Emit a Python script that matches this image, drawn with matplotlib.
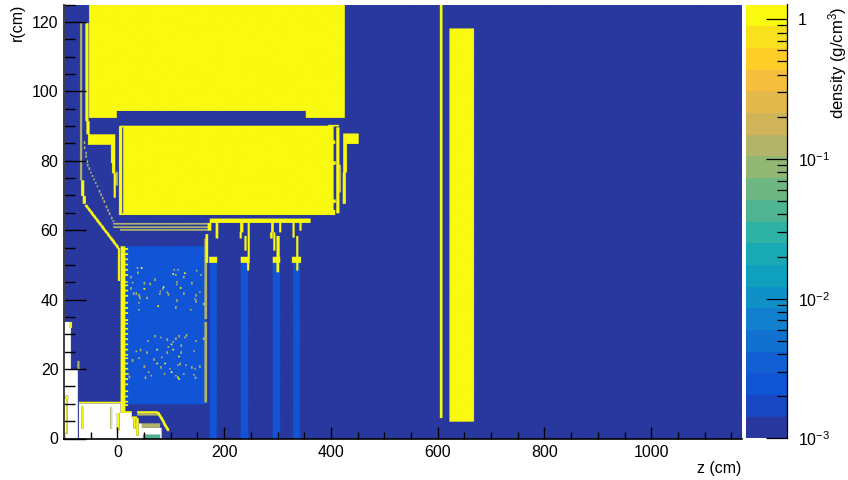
"""Material density map in the r-z plane"""
import matplotlib
matplotlib.use('Agg')
import matplotlib.pyplot as plt
from matplotlib.colors import BoundaryNorm, ListedColormap
from matplotlib.ticker import FixedLocator, MultipleLocator, NullFormatter
import numpy as np

plt.rcParams['font.family'] = ['Liberation Sans', 'DejaVu Sans']
plt.rcParams['mathtext.fontset'] = 'custom'
plt.rcParams['mathtext.rm'] = 'Liberation Sans'
plt.rcParams['mathtext.default'] = 'rm'

Z_RANGE = (-100, 1170)
R_RANGE = (0, 125)
RHO_MIN, RHO_MAX = 1e-3, 1.27

# density values (g/cm3) of the materials
RHO_AIR = 0.0011
RHO_GAS = 0.0025
RHO_MIX = 0.12
RHO_GREEN = 0.042
RHO_IRON = 8.0

# 20 colour bands, bottom to top
band_colors = ['#28389f', '#1946c3', '#1155d7', '#125fd4', '#1270d0', '#1280cd',
               '#0f91c8', '#0fa0be', '#19aab4', '#2db2a5', '#4eb491', '#6eb782',
               '#91b773', '#b2b469', '#d0b45a', '#e4b94b', '#f5be3c', '#fecd28',
               '#fae11e', '#fafa0f']

# (z0, z1, r0, r1) in cm
gas_regions = [(16, 166, 9.8, 55.3), (173, 186, 0, 50.7), (231, 245, 0, 50.7),
               (291, 305, 0, 50.7), (329, 342, 0, 50.7)]

iron_regions = [
    (-53, 426, 94.5, 125), (-53, -1, 92.5, 94.5), (353, 426, 92.5, 94.5),
    (16, 405, 64.4, 90.2), (4, 8, 64.5, 90), (12, 16, 64.5, 90),
    (4, 16, 89.7, 90.2), (4, 16, 64.3, 64.8),
    (-59, -55, 91.4, 119.6), (-57, -53, 87.6, 91.4), (-55, -4, 84.7, 87.6),
    (-12, -4, 79.5, 84.7), (-10, -4, 76.4, 79.5), (-6, -4, 69.5, 76.4),
    (-67, -63, 70, 74.4), (-64, -60, 67.6, 70), (1.5, 3.5, 45.5, 55),
    (173, 362, 62.2, 63.4),
    (423, 452, 85, 87.9), (423, 430, 76.7, 85), (423, 427, 67.7, 76.7),
    (411, 415, 64.8, 89.6), (395, 415, 89.9, 90.3),
    (405, 407, 64.5, 66), (405, 408, 79, 80), (405, 408, 68, 69), (405, 407, 85, 86),
    (605, 608, 6, 125), (622, 668, 4.9, 118.2),
    (6, 15, 7.5, 55.5),
    # station supports and blobs
    (170, 175, 59.9, 62.2), (185, 188, 57.6, 62.2), (172, 187, 50.7, 52.4),
    (166, 169, 50.7, 59),
    (245, 247, 50.7, 62.2), (230, 232, 57.6, 59.7), (239, 241, 54.2, 58.5),
    (231, 248, 50.7, 52.4), (231, 235, 59.5, 62.2), (244, 246, 48.4, 50.7),
    (287, 290, 57.6, 59.5), (289, 292, 59.5, 62.2), (299, 303, 50.7, 58.5),
    (293, 295, 54.2, 59.4), (304, 306, 59.5, 62.2), (291, 305, 50.7, 52.4),
    (299, 302, 48, 50.7),
    (329, 331, 57.9, 62.2), (342, 344, 60, 62.2), (336, 338, 48.4, 58.5),
    (327, 344, 50.7, 52.4),
    # lower left
    (-72, 9, 10.1, 10.6), (9, 27, 7.5, 8), (27, 37, 6, 6.4), (31, 33, 3, 6),
    (-66, -65, 2.9, 9.5), (-12, -11, 3, 9.2), (-95, -94, 1.4, 12.4), (0, 3, 2.3, 7.5),
    (-88, -86, 32, 33.7), (36, 39, 1, 6), (-96, -93, 11.5, 12.5), (37, 76, 7.4, 7.9),
]

mix_regions = [
    (-69, -67, 74.4, 119.6), (-8, 170, 61.7, 62.2), (-8, 170, 60.6, 61.1),
    (5, 170, 60, 60.3), (164, 167, 34.3, 57.6), (164, 167, 10.4, 33.6),
    (37, 76, 6.6, 7.8), (46, 80, 3.2, 4.3), (-74, -72, 20, 22.5),
    (417, 418, 71, 79), (-2, 0, 73, 77),
]

# r rows of the jagged yellow edge of the gas volume at z = 14..17
jag_r = [54.5, 53, 51.5, 50, 48.5, 47, 45, 44, 42.5, 41, 39, 37.5, 36, 34, 33, 31.5,
         30, 28.5, 27, 25.5, 24, 23, 21.5, 20, 18.5, 17, 15.5, 13.5, 12, 10.5, 9.5]

# white, below the scale: (z0, z1, r0, r1)
empty_regions = [(-100, -87, 19.9, 33.7), (-100, -74, 0, 19.9), (-72, 9, 0, 10.1),
                 (9, 27, 0, 7.5), (27, 37, 0, 6), (37, 46, 0, 4.3), (46, 83, 0, 3.2)]
green_regions = [(48, 80, 0, 1.2)]

# slanted thin parts: (z0, r0, z1, r1)
iron_slants = [(-59, 67.1, 1, 55), (76, 7.5, 95, 2.3)]

# single scattered cells
speck_z = [36.8, 37.4, 24.3, 69.2, 105.9, 112.1, 108.4, 123.4, 147.6, 155.8, 163.2, 17.5, 28,
           49.8, 60.4, 110.3, 110.3, 138.3, 84.1, 24.3, 79.1, 78.5, 92.8, 94.7, 29.9, 34.3,
           39.2, 41.1, 54.2, 123.4, 153.3, 147, 144.5, 147, 39.2, 110.3, 108.4, 39.2, 136.4,
           160.1, 69.2, 80.4, 92.8, 108.4, 114.6, 125.8, 129, 56.1, 103.4, 94.7, 119, 147,
           160.1, 43, 34.3, 54.2, 92.8, 119, 142.7, 82.2, 39.2, 28, 67.3, 116.5, 112.1, 127.1,
           49.8, 80.4, 97.2, 138.3, 144.5, 153.3, 58, 87.8, 123.4, 142.7, 62.9, 108.4, 51.7,
           145.2, 19.3, 21.8, -56, -53, -50, -47, -44, -41, -38, -34, -31, -28, -25, -21, -18,
           -15, -11, -8, -62, -62, -59, -59, -57]
speck_r = [48.8, 47.5, 46.2, 45.5, 48.4, 48.4, 46.9, 46.2, 48.1, 46.9, 46.9, 44.8, 44.6,
           44.5, 44.2, 44.8, 44.1, 44.5, 42.8, 43, 42.1, 41.4, 41.9, 41.2, 41.5, 41.5,
           41, 40.2, 40.2, 41.5, 41.9, 41, 39.8, 39.2, 38.9, 39.5, 37.5, 36.9, 36.9,
           38.5, 29.2, 28.9, 28.2, 28.5, 29.2, 28.9, 29.5, 27.9, 27.6, 26.1, 26.5, 27.9,
           28.5, 25.2, 24.8, 24.5, 24.5, 24.5, 24.8, 23.1, 22.9, 22.2, 22.5, 21.2, 20.8, 20.8,
           20.5, 20.2, 19.9, 20.2, 19.9, 20.5, 18.8, 18.4, 18.4, 18.1, 17.9, 17.9, 17.2,
           17.2, 18.4, 17.5, 78.5, 77.5, 76.4, 75.4, 74.4, 73.4, 72.4, 71, 70, 69, 68, 66.5, 65.5,
           64.5, 63.2, 62.4, 85, 83.5, 82, 81, 79.5]
bright_z = [44.9, 103.4, 125.8, 86, 117.1, 49.8, 75.4, 100.9, 103.4, 73.5, 88.5, 100.9,
            114.6, 73.5, 112.1, 114.6]
bright_r = [48.8, 47.2, 47.3, 43.4, 43.1, 42.8, 37.8, 27, 25.5, 25.5, 21.5, 18.8,
            23.4, 21.5, 17.5, 16.9]

cbar_labels = ['$10^{-3}$', '$10^{-2}$', '$10^{-1}$', '1']

# density histogram, 1 cm x 0.25 cm cells
z_edges = np.arange(Z_RANGE[0], Z_RANGE[1] + 1, 1.0)
r_edges = np.arange(R_RANGE[0], R_RANGE[1] + 0.25, 0.25)
rho = np.full((len(r_edges) - 1, len(z_edges) - 1), RHO_AIR)


def fill(z0, z1, r0, r1, value):
    # thin walls lose too much to the smoothing, so they get one cell more per side
    if z1 - z0 < 6:
        z0, z1 = z0 - 1, z1 + 1
    i0 = np.searchsorted(z_edges, z0)
    i1 = max(np.searchsorted(z_edges, z1), i0 + 1)
    j0 = np.searchsorted(r_edges, r0)
    j1 = max(np.searchsorted(r_edges, r1), j0 + 1)
    rho[j0:j1, i0:i1] = value


for reg in gas_regions:
    fill(*reg, RHO_GAS)
for reg in empty_regions:
    fill(*reg, 0.0)
for reg in green_regions:
    fill(*reg, RHO_GREEN)
for reg in mix_regions:
    fill(*reg, RHO_MIX)
for reg in iron_regions:
    fill(*reg, RHO_IRON)
for r_row in jag_r:
    fill(14, 19, r_row, r_row + 0.5, RHO_IRON)
for z0, r0, z1, r1 in iron_slants:
    for t in np.linspace(0, 1, 200):
        zc, rc = z0 + t * (z1 - z0), r0 + t * (r1 - r0)
        fill(zc - 1, zc + 1, rc - 0.25, rc + 0.25, RHO_IRON)
for zc, rc in zip(speck_z, speck_r):
    fill(zc, zc + 1, rc, rc + 0.6, RHO_MIX)
for zc, rc in zip(bright_z, bright_r):
    fill(zc, zc + 1, rc, rc + 0.5, RHO_IRON)

levels = np.logspace(np.log10(RHO_MIN), np.log10(RHO_MAX), len(band_colors) + 1)
cmap = ListedColormap(band_colors)
norm = BoundaryNorm(levels, cmap.N, clip=True)

fig = plt.figure(figsize=(8.48, 4.8), dpi=100)
ax = fig.add_axes([64 / 848, 1 - 438.5 / 480, 678 / 848, 434 / 480])
im = ax.imshow(np.ma.masked_less_equal(rho, 0), origin='lower', aspect='auto',
               extent=(Z_RANGE[0], Z_RANGE[1], R_RANGE[0], R_RANGE[1]),
               cmap=cmap, norm=norm, interpolation='hanning', interpolation_stage='rgba')
ax.set_xlim(*Z_RANGE)
ax.set_ylim(*R_RANGE)
ax.xaxis.set_major_locator(MultipleLocator(200))
ax.xaxis.set_minor_locator(MultipleLocator(50))
ax.yaxis.set_major_locator(MultipleLocator(20))
ax.yaxis.set_minor_locator(MultipleLocator(5))
ax.tick_params(axis='x', which='major', direction='in', length=8.6, width=1,
               labelsize=11.5, pad=5)
ax.tick_params(axis='x', which='minor', direction='in', length=5, width=1)
ax.tick_params(axis='y', which='major', direction='in', length=16, width=1,
               labelsize=11.5, pad=4)
ax.tick_params(axis='y', which='minor', direction='in', length=8, width=1)
ax.spines['top'].set_visible(False)
ax.spines['right'].set_visible(False)
ax.spines['left'].set_color('#404040')
ax.spines['left'].set_linewidth(1.4)
ax.spines['bottom'].set_linewidth(1.2)

cax = fig.add_axes([745.5 / 848, 1 - 438.5 / 480, 41.5 / 848, 434 / 480])
cax.pcolormesh([0, 1], levels, np.arange(len(band_colors)).reshape(-1, 1),
               cmap=cmap, vmin=-0.5, vmax=len(band_colors) - 0.5)
cax.set_yscale('log')
cax.set_ylim(RHO_MIN, RHO_MAX)
cax.set_xticks([])
cax.yaxis.tick_right()
cax.yaxis.set_major_locator(FixedLocator([1e-3, 1e-2, 1e-1, 1]))
cax.set_yticklabels(cbar_labels)
cax.yaxis.set_minor_locator(FixedLocator(
    [m * d for d in (1e-3, 1e-2, 1e-1) for m in range(2, 10)]))
cax.yaxis.set_minor_formatter(NullFormatter())
cax.tick_params(axis='y', which='major', direction='in', length=15, width=0.9,
                labelsize=11.5, pad=8)
cax.tick_params(axis='y', which='minor', direction='in', length=7.5, width=0.9)
for side in ['top', 'left', 'bottom']:
    cax.spines[side].set_visible(False)
cax.spines['right'].set_linewidth(0.9)

fig.text(741 / 848, 1 - 468 / 480, 'z (cm)', ha='right', va='center', fontsize=11.5)
fig.text(17 / 848, 1 - 4 / 480, 'r(cm)', rotation=90, ha='center', va='top', fontsize=11.5)
fig.text(838 / 848, 1 - 7 / 480, 'density (g/cm$^{3}$)', rotation=90, ha='center', va='top',
         fontsize=12)

fig.savefig('out.png', dpi=100)
